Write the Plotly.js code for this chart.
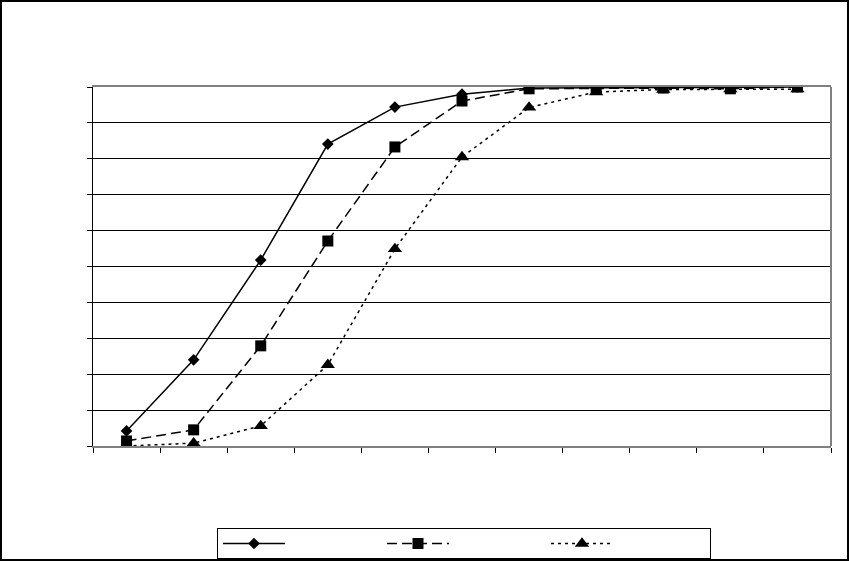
<!DOCTYPE html>
<html>
<head>
<meta charset="utf-8">
<script src="https://cdn.plot.ly/plotly-3.0.1.min.js"></script>
<style>
html,body{margin:0;padding:0;background:#fff;}
#chart{width:849px;height:561px;}
</style>
</head>
<body>
<div id="chart"></div>
<script>
// Categories (no labels shown in the reference)
const categories = ["1","2","3","4","5","6","7","8","9","10","11"];
const seriesA = [4.2, 24.0, 51.8, 84.1, 94.4, 98.0, 99.7, 99.8, 99.8, 100.0, 100.0];
const seriesB = [1.4, 4.5, 27.9, 57.1, 83.3, 96.1, 99.5, 99.7, 99.7, 99.5, 100.0];
const seriesC = [0.0, 0.8, 5.6, 22.6, 54.9, 80.5, 94.3, 98.6, 99.3, 99.4, 99.4];

const plotL = 93, plotR = 831, plotT = 87, plotB = 446, W = 849, H = 561;
const pw = plotR - plotL, ph = plotB - plotT;

const traces = [
  {x: categories, y: seriesA, type: 'scatter', mode: 'lines+markers', name: ' ',
   line: {color: '#000', width: 1.5, dash: 'solid'},
   marker: {symbol: 'diamond', size: 9, color: '#000'}},
  {x: categories, y: seriesB, type: 'scatter', mode: 'lines+markers', name: ' ',
   line: {color: '#000', width: 1.5, dash: '10px,5px'},
   marker: {symbol: 'square', size: 11, color: '#000'}},
  {x: categories, y: seriesC, type: 'scatter', mode: 'lines+markers', name: ' ',
   line: {color: '#000', width: 1.5, dash: '3px,4px'},
   marker: {symbol: 'triangle-up', size: 12.5, color: '#000'}}
];

const layout = {
  width: W, height: H,
  margin: {l: plotL, r: W - plotR, t: plotT, b: H - plotB, pad: 0, autoexpand: false},
  paper_bgcolor: '#fff', plot_bgcolor: '#fff',
  font: {family: 'Liberation Sans, Arial, sans-serif', size: 12, color: '#000'},
  showlegend: true,
  legend: {
    orientation: 'h', x: (464 - plotL) / pw, xanchor: 'center',
    y: -(528 - plotB) / ph, yanchor: 'top',
    bordercolor: '#000', borderwidth: 1, bgcolor: '#fff',
    itemwidth: 62,
    entrywidth: 87, entrywidthmode: 'pixels',
    font: {size: 11}
  },
  xaxis: {
    type: 'category', range: [-0.5, categories.length - 0.5], autorange: false,
    showticklabels: false, showgrid: false, zeroline: false,
    showline: true, linecolor: '#808080', linewidth: 2, mirror: true,
    ticks: 'outside', tickson: 'boundaries', ticklen: 5, tickcolor: '#000', tickwidth: 1
  },
  yaxis: {
    range: [0, 100], dtick: 10, showticklabels: false, zeroline: false,
    showgrid: true, gridcolor: '#000', gridwidth: 1,
    showline: true, linecolor: '#000', linewidth: 1,
    ticks: 'outside', ticklen: 5, tickcolor: '#000', tickwidth: 1
  },
  shapes: [
    {type: 'line', xref: 'paper', yref: 'paper', x0: 1, x1: 1, y0: 0, y1: 1,
     line: {color: '#808080', width: 2}},
    {type: 'rect', xref: 'paper', yref: 'paper',
     x0: (1 - plotL) / pw, x1: (W - 1 - plotL) / pw,
     y0: (plotB - (H - 1)) / ph, y1: (plotB - 1) / ph,
     line: {color: '#000', width: 2}, fillcolor: 'rgba(0,0,0,0)'}
  ]
};

Plotly.newPlot('chart', traces, layout, {displayModeBar: false, staticPlot: true});
</script>
</body>
</html>
